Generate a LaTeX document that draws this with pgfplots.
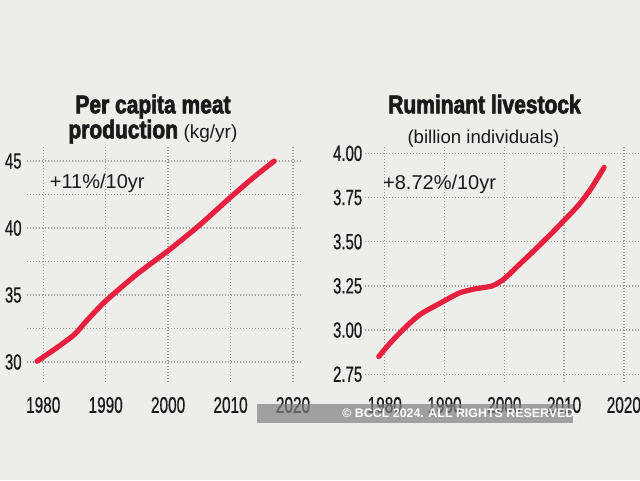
\documentclass[border=0pt]{standalone}
\usepackage{pgfplots}
\pgfplotsset{compat=1.18}
\usepackage{fontspec}
\setmainfont{Liberation Sans}
\newfontfamily\condfont{Liberation Sans}[FakeStretch=0.68, FakeBold=0.6]
\newfontfamily\titlefont{Liberation Sans}[FakeStretch=0.82, BoldFeatures={FakeBold=2.5}]
\definecolor{bg}{HTML}{EDEDE9}
\definecolor{linered}{HTML}{E8203F}
\definecolor{gridc}{HTML}{9A9A9A}
\definecolor{txt}{HTML}{1A1A1A}
\pgfplotsset{
  panel/.style={
    scale only axis,
    axis line style={draw=none},
    major tick length=0pt, minor tick length=0pt,
    grid=both,
    major grid style={gridc, line width=0.7pt, dash pattern=on 0.7pt off 0.8pt},
    minor grid style={gridc, line width=0.7pt, dash pattern=on 0.7pt off 0.8pt},
    xtick={1980,1990,2000,2010,2020},
    xticklabel style={font=\condfont\fontsize{11.3}{11.3}\selectfont, text=txt, anchor=north, inner sep=0pt, yshift=-7.3pt},
    /pgf/number format/assume math mode=true,
    x tick label style={/pgf/number format/1000 sep={}},
    clip=true,
  }
}
\begin{document}
\begin{tikzpicture}[x=1pt,y=1pt]
\fill[bg] (0,0) rectangle (320,240);

% Left panel
\begin{axis}[panel,
  at={(13.5pt,49pt)}, anchor=south west,
  width=138pt, height=118.5pt,
  xmin=1977.4, xmax=2021.6, ymin=28.5, ymax=46.2,
  ytick={30,35,40,45}, minor ytick={32.5,37.5,42.5},
  yticklabel style={font=\condfont\fontsize{11}{11}\selectfont, text=txt, anchor=east, inner sep=0pt, xshift=-2.5pt},
]
\addplot[linered, line width=2.6pt, line cap=round, smooth, tension=0.4] coordinates {
(1979,30.05) (1982,31.0) (1985,32.05) (1987,33.1) (1990,34.55) (1995,36.55)
(2000,38.3) (2005,40.2) (2010,42.3) (2014,43.9) (2017,45.0)
};
\node[anchor=base west, inner sep=0pt, text=txt, font=\fontsize{10}{10}\selectfont] at (axis cs:1981,42.96) {+11\%/10yr};
\end{axis}

% Right panel
\begin{axis}[panel,
  at={(182.5pt,49pt)}, anchor=south west,
  width=137.5pt, height=118.5pt,
  xmin=1976.7, xmax=2022.7, ymin=2.706, ymax=4.047,
  ytick={2.75,3.00,3.25,3.50,3.75,4.00},
  yticklabel style={font=\condfont\fontsize{11}{11}\selectfont, text=txt, anchor=east, inner sep=0pt, xshift=-1.2pt,
    /pgf/number format/.cd, fixed, fixed zerofill, precision=2},
]
\addplot[linered, line width=2.6pt, line cap=round, smooth, tension=0.4] coordinates {
(1979,2.85) (1981,2.93) (1983.6,3.02) (1986,3.09) (1989.7,3.16) (1992.5,3.21)
(1995,3.232) (1998,3.25) (2000,3.29) (2002.5,3.37) (2005,3.45) (2008,3.55)
(2010,3.62) (2012.5,3.71) (2014.5,3.80) (2016.7,3.92)
};
\node[anchor=base west, inner sep=0pt, text=txt, font=\fontsize{10}{10}\selectfont] at (axis cs:1979.67,3.796) {+8.72\%/10yr};
\end{axis}

% Titles
\node[anchor=base, inner sep=0pt, text=txt, font=\titlefont\bfseries\fontsize{12.8}{12.8}\selectfont] at (76.5,183.35) {Per capita meat};
\node[anchor=base west, inner sep=0pt, text=txt] at (34,170.85) {{\titlefont\bfseries\fontsize{12.8}{12.8}\selectfont production} {\fontsize{9.5}{9.5}\selectfont(kg/yr)}};
\node[anchor=base, inner sep=0pt, text=txt, font=\titlefont\bfseries\fontsize{12.8}{12.8}\selectfont] at (242.25,183.35) {Ruminant livestock};
\node[anchor=base, inner sep=0pt, text=txt, font=\fontsize{9.3}{9.3}\selectfont] at (241.75,168.35) {(billion individuals)};

% Watermark
\fill[gray, opacity=0.7] (128.5,28.5) rectangle (286.5,38);
\node[anchor=west, inner sep=0pt, text=white, font=\bfseries\fontsize{6.2}{6.2}\selectfont] at (171,33.25) {© BCCL 2024. ALL RIGHTS RESERVED.};

\pgfresetboundingbox
\path (0,0) rectangle (320,240);
\end{tikzpicture}
\end{document}
